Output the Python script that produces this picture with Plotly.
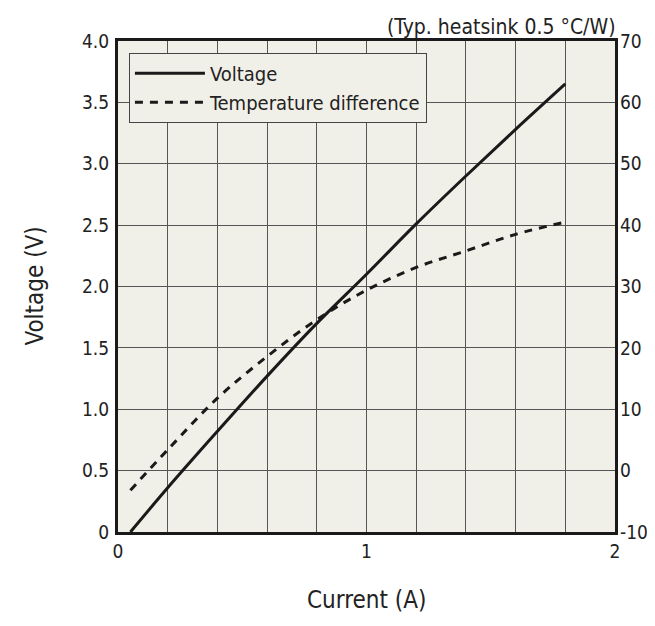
import plotly.graph_objects as go

# Data
current = [0.05, 0.2, 0.4, 0.6, 0.8, 1.0, 1.2, 1.4, 1.6, 1.8]
voltage = [0.0, 0.36, 0.82, 1.27, 1.70, 2.10, 2.51, 2.90, 3.28, 3.65]
temp_diff = [-3.2, 3.4, 11.8, 18.6, 24.6, 29.4, 33.1, 35.8, 38.5, 40.5]

x_tickvals = [0, 0.2, 0.4, 0.6, 0.8, 1.0, 1.2, 1.4, 1.6, 1.8, 2.0]
x_ticktext = ["0", "", "", "", "", "1", "", "", "", "", "2"]
y_tickvals = [0, 0.5, 1.0, 1.5, 2.0, 2.5, 3.0, 3.5, 4.0]
y_ticktext = ["0", "0.5", "1.0", "1.5", "2.0", "2.5", "3.0", "3.5", "4.0"]
y2_tickvals = [-10, 0, 10, 20, 30, 40, 50, 60, 70]
y2_ticktext = ["-10", "0", "10", "20", "30", "40", "50", "60", "70"]

FONT = "DejaVu Sans Condensed, DejaVu Sans"
TXT = "#222222"
BG = "#f1f0e8"
GRID = "#555555"

fig = go.Figure()
fig.add_trace(go.Scatter(x=current, y=voltage, name="Voltage", mode="lines",
                         line=dict(color="#1a1a1a", width=3, shape="spline"), yaxis="y"))
fig.add_trace(go.Scatter(x=current, y=temp_diff, name="Temperature difference", mode="lines",
                         line=dict(color="#1a1a1a", width=3, dash="8px,7px", shape="spline"),
                         yaxis="y2"))

fig.update_layout(
    width=647, height=618,
    margin=dict(l=110, r=40, t=33, b=94),
    paper_bgcolor="white", plot_bgcolor=BG,
    font=dict(family=FONT, size=19, color=TXT),
    showlegend=True,
    legend=dict(x=0.022, y=0.976, xanchor="left", yanchor="top",
                bgcolor=BG, bordercolor="#444444", borderwidth=1,
                font=dict(family=FONT, size=20, color=TXT),
                tracegroupgap=0, itemwidth=70),
    xaxis=dict(range=[0, 2], tickvals=x_tickvals, ticktext=x_ticktext,
               showgrid=True, gridcolor=GRID, gridwidth=1, zeroline=False,
               showline=True, linecolor="#1a1a1a", linewidth=3, mirror=True,
               ticks="", ticklabelstandoff=0, automargin=False),
    yaxis=dict(range=[0, 4], tickvals=y_tickvals, ticktext=y_ticktext,
               showgrid=True, gridcolor=GRID, gridwidth=1, zeroline=False,
               showline=True, linecolor="#1a1a1a", linewidth=3, mirror=True,
               ticks="", ticklabelstandoff=2, automargin=False),
    yaxis2=dict(range=[-10, 70], tickvals=y2_tickvals, ticktext=y2_ticktext,
                overlaying="y", side="right", showgrid=False, zeroline=False,
                showline=False, ticks="", ticklabelstandoff=4, automargin=False),
    annotations=[
        dict(text="(Typ. heatsink 0.5 °C/W)", xref="paper", yref="paper",
             x=1.0, y=1.0, xanchor="right", yanchor="bottom", yshift=0, xshift=3,
             showarrow=False, font=dict(family=FONT, size=21, color=TXT)),
        dict(text="Voltage (V)", xref="paper", yref="paper", x=0, y=0.5,
             xanchor="center", yanchor="middle", xshift=-84, textangle=-90,
             showarrow=False, font=dict(family=FONT, size=24, color=TXT)),
        dict(text="Current (A)", xref="paper", yref="paper", x=0.5, y=0,
             xanchor="center", yanchor="middle", yshift=-68,
             showarrow=False, font=dict(family=FONT, size=24, color=TXT)),
    ],
)

fig.write_html("out.html")
